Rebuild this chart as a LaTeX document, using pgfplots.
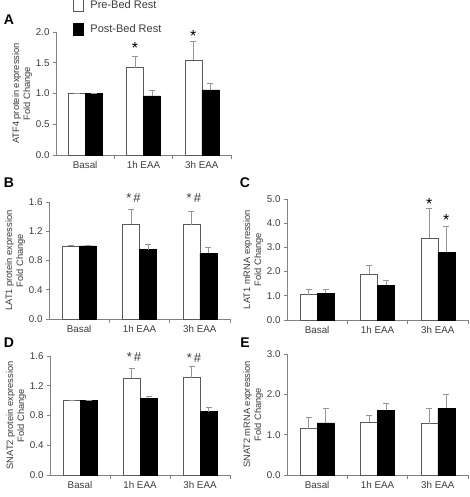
\documentclass[border=0pt]{standalone}
\usepackage{fontspec}
\setmainfont{Liberation Sans}
\usepackage{pgfplots}
\pgfplotsset{compat=1.18}
\definecolor{axgray}{RGB}{130,130,130}
\definecolor{txtgray}{RGB}{60,60,60}
\definecolor{edgegray}{RGB}{90,90,90}
\definecolor{errgray}{RGB}{150,150,150}
\pgfplotsset{
  panel/.style={
    scale only axis, ybar,
    axis x line*=bottom, axis y line*=left,
    axis line style={axgray, line width=0.6pt},
    every tick/.style={axgray, line width=0.6pt},
    tick align=outside,
    xmin=-0.5, xmax=2.5, ymin=0,
    xtick={0,1,2}, xticklabels={Basal,1h EAA,3h EAA},
    major x tick style={draw=none},
    minor xtick={0.5,1.5,2.5}, minor tick length=4pt,
    major tick length=3pt,
    bar width=17pt,
    /pgf/number format/assume math mode=true,
    /pgf/number format/fixed, /pgf/number format/fixed zerofill,
    /pgf/number format/precision=1,
    tick label style={font=\fontsize{9.8}{11}\selectfont, text=txtgray},
    ylabel style={font=\fontsize{9.3}{11}\selectfont, text=txtgray, align=center},
    ylabel shift=-3pt,
    error bars/y dir=plus, error bars/y explicit,
    error bars/error bar style={errgray, line width=0.8pt},
    error bars/error mark options={errgray, rotate=90, mark size=3pt, line width=0.8pt},
  },
  pre/.style={fill=white, draw=edgegray, line width=0.6pt, bar shift=-8.5pt},
  post/.style={fill=black, draw=black, line width=0.6pt, bar shift=8.5pt},
}
\begin{document}
\begin{tikzpicture}
\useasboundingbox (0,0) rectangle (469pt,497pt);
\fill[white] (0,0) rectangle (469pt,497pt);
% Panel A
\begin{axis}[panel, at={(56pt,342pt)}, anchor=south west, width=175pt, height=123pt,
  ymax=2, ytick={0,0.5,1,1.5,2},
  ylabel={ATF4 protein expression\\Fold Change},
  legend style={at={(0.095,1.27)}, anchor=north west, draw=none, fill=none, inner sep=0pt,
    row sep=10pt, font=\fontsize{11}{12}\selectfont, text=txtgray,
    /tikz/every odd column/.append style={column sep=5pt}},
  legend cell align=left,
  legend image code/.code={\draw[#1,bar shift=0pt] (0pt,-6pt) rectangle (10pt,6pt);},
  clip=false]
\addplot[pre] coordinates {(0,1.0) +- (0,0) (1,1.42) +- (0,0.18) (2,1.54) +- (0,0.30)};
\addplot[post] coordinates {(0,1.0) +- (0,0) (1,0.96) +- (0,0.09) (2,1.06) +- (0,0.10)};
\legend{Pre-Bed Rest, Post-Bed Rest}
\node[font=\fontsize{16}{17}\selectfont] at (axis cs:1,1.74) [xshift=-8.5pt] {*};
\node[font=\fontsize{16}{17}\selectfont] at (axis cs:2,1.93) [xshift=-8.5pt] {*};
\end{axis}
% Panel B
\begin{axis}[panel, at={(49pt,178pt)}, anchor=south west, width=181pt, height=117pt,
  ymax=1.6, ytick={0,0.4,0.8,1.2,1.6},
  ylabel={LAT1 protein expression\\Fold Change}, clip=false]
\addplot[pre] coordinates {(0,1.0) +- (0,0) (1,1.30) +- (0,0.20) (2,1.29) +- (0,0.18)};
\addplot[post] coordinates {(0,1.0) +- (0,0) (1,0.95) +- (0,0.07) (2,0.90) +- (0,0.08)};
\node[font=\fontsize{13}{14}\selectfont, text=txtgray] at (axis cs:1,1.66) [xshift=-6pt] {*\,\#};
\node[font=\fontsize{13}{14}\selectfont, text=txtgray] at (axis cs:2,1.65) [xshift=-6pt] {*\,\#};
\end{axis}
% Panel C
\begin{axis}[panel, at={(287pt,177pt)}, anchor=south west, width=181pt, height=121pt,
  ymax=5, ytick={0,1,2,3,4,5},
  ylabel={LAT1 mRNA expression\\Fold Change}, clip=false]
\addplot[pre] coordinates {(0,1.05) +- (0,0.20) (1,1.90) +- (0,0.35) (2,3.38) +- (0,1.24)};
\addplot[post] coordinates {(0,1.10) +- (0,0.18) (1,1.43) +- (0,0.22) (2,2.80) +- (0,1.07)};
\node[font=\fontsize{16}{17}\selectfont] at (axis cs:2,4.8) [xshift=-8.5pt] {*};
\node[font=\fontsize{16}{17}\selectfont] at (axis cs:2,4.15) [xshift=8.5pt] {*};
\end{axis}
% Panel D
\begin{axis}[panel, at={(50pt,22pt)}, anchor=south west, width=180pt, height=119pt,
  ymax=1.6, ytick={0,0.4,0.8,1.2,1.6},
  ylabel={SNAT2 protein expression\\Fold Change}, clip=false]
\addplot[pre] coordinates {(0,1.0) +- (0,0) (1,1.30) +- (0,0.13) (2,1.31) +- (0,0.15)};
\addplot[post] coordinates {(0,1.0) +- (0,0) (1,1.03) +- (0,0.03) (2,0.85) +- (0,0.06)};
\node[font=\fontsize{13}{14}\selectfont, text=txtgray] at (axis cs:1,1.58) [xshift=-6pt] {*\,\#};
\node[font=\fontsize{13}{14}\selectfont, text=txtgray] at (axis cs:2,1.57) [xshift=-6pt] {*\,\#};
\end{axis}
% Panel E
\begin{axis}[panel, at={(287pt,22pt)}, anchor=south west, width=181pt, height=121pt,
  ymax=3, ytick={0,1,2,3},
  ylabel={SNAT2 mRNA expression\\Fold Change}, clip=false]
\addplot[pre] coordinates {(0,1.15) +- (0,0.27) (1,1.31) +- (0,0.16) (2,1.27) +- (0,0.38)};
\addplot[post] coordinates {(0,1.29) +- (0,0.36) (1,1.61) +- (0,0.16) (2,1.65) +- (0,0.35)};
\end{axis}
% Panel letters
\node[font=\bfseries\fontsize{14}{16}\selectfont] at (9pt,477pt) {A};
\node[font=\bfseries\fontsize{14}{16}\selectfont] at (9pt,314pt) {B};
\node[font=\bfseries\fontsize{14}{16}\selectfont] at (245pt,314pt) {C};
\node[font=\bfseries\fontsize{14}{16}\selectfont] at (9pt,154pt) {D};
\node[font=\bfseries\fontsize{14}{16}\selectfont] at (245pt,154pt) {E};
\end{tikzpicture}
\end{document}
